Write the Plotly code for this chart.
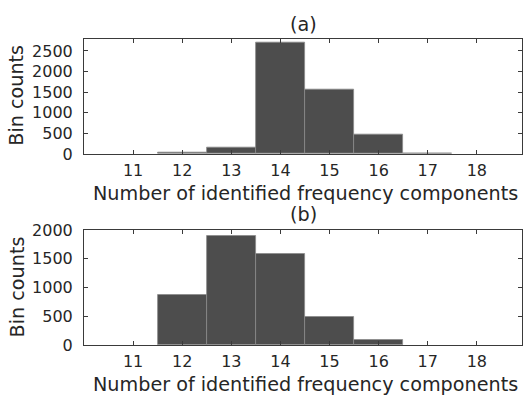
import plotly.graph_objects as go

W, H = 523, 409
bins = [11, 12, 13, 14, 15, 16, 17, 18]
counts_a = [0, 40, 145, 2710, 1565, 477, 18, 0]
counts_b = [0, 866, 1897, 1583, 490, 95, 0, 0]
ytick_a = [0, 500, 1000, 1500, 2000, 2500]
ytick_b = [0, 500, 1000, 1500, 2000]
xlabel = "Number of identified frequency components"
ylabel = "Bin counts"
titles = ["(a)", "(b)"]

FONT = "DejaVu Sans"
TXT = "#262626"
AX = "#3a3a3a"
BAR = "#4d4d4d"
EDGE = "#8a8a8a"

L, R = 84, 522
top_a, bot_a = 31, 152
top_b, bot_b = 231.7, 352.3

def py(p):
    return 1 - p / H

def px(p):
    return (p - L) / (R - L)

fig = go.Figure()
for i, (vals, yr, yt, t0, t1) in enumerate([
        (counts_a, [0, 2800], ytick_a, top_a, bot_a),
        (counts_b, [0, 2000], ytick_b, top_b, bot_b)]):
    xa = "x" if i == 0 else "x2"
    ya = "y" if i == 0 else "y2"
    lw = [0.8 if v > 0 else 0 for v in vals]
    fig.add_trace(go.Bar(x=bins, y=vals, width=1, xaxis=xa, yaxis=ya,
                         marker=dict(color=BAR, line=dict(color=EDGE, width=lw)),
                         showlegend=False))
    axcommon = dict(showline=True, linecolor=AX, linewidth=1, mirror="ticks",
                    ticks="inside", ticklen=4, tickcolor=AX, showgrid=False,
                    zeroline=False, tickfont=dict(family=FONT, size=16, color=TXT))
    fig.layout[("xaxis" if i == 0 else "xaxis2")] = dict(
        domain=[0, 1], range=[10, 18.92], tickvals=bins, anchor=ya,
        ticklabelstandoff=2, **axcommon)
    fig.layout[("yaxis" if i == 0 else "yaxis2")] = dict(
        domain=[py(t1), py(t0)], range=yr, tickvals=yt, anchor=xa,
        ticklabelstandoff=7, **axcommon)

annots = [
    dict(text=titles[0], x=px(303), y=py(16)),
    dict(text=titles[1], x=px(303), y=py(216)),
    dict(text=xlabel, x=px(305), y=py(193)),
    dict(text=xlabel, x=px(305), y=py(394)),
    dict(text=ylabel, x=px(17), y=py(91), textangle=-90),
    dict(text=ylabel, x=px(17), y=py(292), textangle=-90),
]
for a in annots:
    fig.add_annotation(xref="paper", yref="paper", showarrow=False,
                       xanchor="center", yanchor="middle",
                       font=dict(family=FONT, size=19.2, color=TXT), **a)

fig.update_layout(width=W, height=H, margin=dict(l=L, r=W - R, t=0, b=0),
                  paper_bgcolor="white", plot_bgcolor="white", bargap=0)
fig.write_html("out.html")
